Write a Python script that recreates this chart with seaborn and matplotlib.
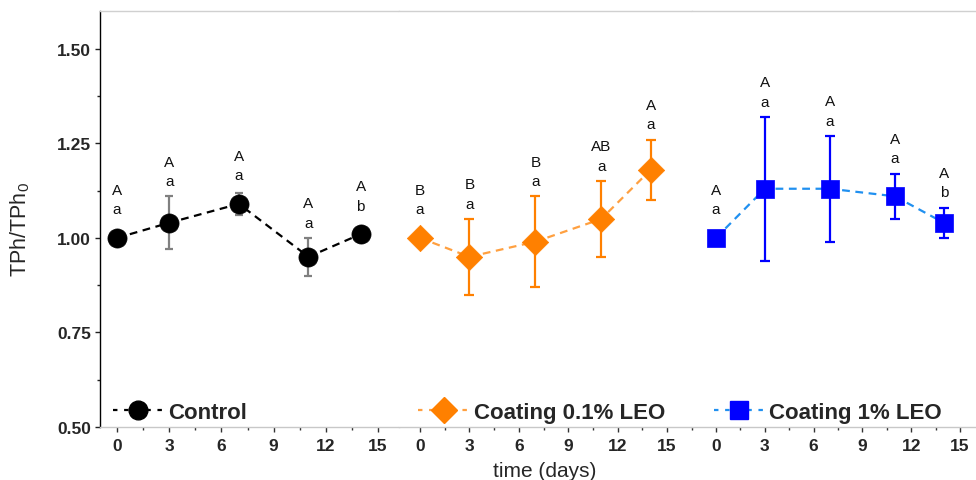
import numpy as np
import pandas as pd
import matplotlib
matplotlib.use("Agg")
import matplotlib.pyplot as plt
import seaborn as sns
from matplotlib.ticker import MultipleLocator, FormatStrFormatter
from matplotlib.lines import Line2D

# ---------------- data ----------------
days = [0, 3, 7, 11, 14]
control_mean = [1.00, 1.04, 1.09, 0.95, 1.01]
control_err = [0.00, 0.07, 0.03, 0.05, 0.02]
leo01_mean = [1.00, 0.95, 0.99, 1.05, 1.18]
leo01_err = [0.00, 0.10, 0.12, 0.10, 0.08]
leo1_mean = [1.00, 1.13, 1.13, 1.11, 1.04]
leo1_err = [0.00, 0.19, 0.14, 0.06, 0.04]
control_upper = ["A", "A", "A", "A", "A"]
control_lower = ["a", "a", "a", "a", "b"]
leo01_upper = ["B", "B", "B", "AB", "A"]
leo01_lower = ["a", "a", "a", "a", "a"]
leo1_upper = ["A", "A", "A", "A", "A"]
leo1_lower = ["a", "a", "a", "a", "b"]
series_names = ["Control", "Coating 0.1% LEO", "Coating 1% LEO"]
x_ticks = [0, 3, 6, 9, 12, 15]
y_ticks = [0.50, 0.75, 1.00, 1.25, 1.50]

# ---------------- style ----------------
sns.set_theme(style="ticks")
plt.rcParams["font.family"] = ["Liberation Sans", "DejaVu Sans"]
plt.rcParams["mathtext.fontset"] = "custom"
plt.rcParams["mathtext.rm"] = "Liberation Sans"
plt.rcParams["mathtext.it"] = "Liberation Sans"

W, H = 976, 481
fig = plt.figure(figsize=(W / 100, H / 100), dpi=100)
fig.patch.set_facecolor("white")

bot = (H - 428) / H
hgt = (428 - 12) / H
# panel pixel extents and x-limits
panels = [
    dict(px=(100, 399), xlim=(-0.977, 16.2)),
    dict(px=(399, 692), xlim=(-1.275, 16.51)),
    dict(px=(692, 976), xlim=(-1.475, 15.98)),
]

styles = [
    dict(mean=control_mean, err=control_err, up=control_upper, lo=control_lower,
         line="#000000", face="#000000", ecol="#808080", marker="o", s=190, cap=3.2,
         leg_x=0.043),
    dict(mean=leo01_mean, err=leo01_err, up=leo01_upper, lo=leo01_lower,
         line="#FFA040", face="#FF8000", ecol="#FF8000", marker="D", s=180, cap=3.8,
         leg_x=0.065),
    dict(mean=leo1_mean, err=leo1_err, up=leo1_upper, lo=leo1_lower,
         line="#2090F0", face="#0000FF", ecol="#0000FF", marker="s", s=185, cap=3.6,
         leg_x=0.077),
]

for i, (p, st, name) in enumerate(zip(panels, styles, series_names)):
    x0, x1 = p["px"]
    ax = fig.add_axes([x0 / W, bot, (x1 - x0) / W, hgt])
    ax.set_facecolor("white")
    df = pd.DataFrame({"day": days, "mean": st["mean"], "err": st["err"]})

    sns.lineplot(data=df, x="day", y="mean", ax=ax, color=st["line"],
                 linestyle=(0, (3.5, 2.5)), linewidth=1.6, legend=False,
                 errorbar=None, zorder=2)
    dfe = df[df["err"] > 0]
    ax.errorbar(dfe["day"], dfe["mean"], yerr=dfe["err"], fmt="none",
                ecolor=st["ecol"], elinewidth=1.6, capsize=st["cap"],
                capthick=1.6, zorder=3)
    sns.scatterplot(data=df, x="day", y="mean", ax=ax, marker=st["marker"],
                    s=st["s"], color=st["face"], edgecolor=st["face"],
                    linewidth=0.5, zorder=4, legend=False)

    # letters
    for d, m, e, u, l in zip(days, st["mean"], st["err"], st["up"], st["lo"]):
        anchor = m + max(e, 0.035)
        ax.annotate(l, xy=(d, anchor), xytext=(0, 11.0), textcoords="offset points",
                    ha="center", va="center", fontsize=11, color="#111111")
        ax.annotate(u, xy=(d, anchor), xytext=(0, 25.0), textcoords="offset points",
                    ha="center", va="center", fontsize=11, color="#111111")

    ax.set_xlim(*p["xlim"])
    ax.set_ylim(0.5, 1.6)
    ax.set_xticks(x_ticks)
    ax.set_xticklabels([str(t) for t in x_ticks])
    ax.xaxis.set_minor_locator(MultipleLocator(1.5))
    ax.set_xlabel("")
    ax.set_ylabel("")
    ax.tick_params(axis="x", which="major", direction="out", length=3.6, width=1,
                   color="#333333", pad=4, labelsize=12.5)
    ax.tick_params(axis="x", which="minor", direction="out", length=2.0, width=1,
                   color="#333333")
    for lab in ax.get_xticklabels():
        lab.set_fontweight("bold")

    for sp in ["right"]:
        ax.spines[sp].set_visible(False)
    ax.spines["top"].set_color("#d0d0d0")
    ax.spines["top"].set_linewidth(1.0)
    ax.spines["bottom"].set_color("#c8c8c8")
    ax.spines["bottom"].set_linewidth(1.0)

    if i == 0:
        ax.set_yticks(y_ticks)
        ax.yaxis.set_major_formatter(FormatStrFormatter("%.2f"))
        ax.yaxis.set_minor_locator(MultipleLocator(0.125))
        ax.tick_params(axis="y", which="major", direction="out", length=3.6, width=1,
                       color="#222222", pad=3, labelsize=12.5)
        ax.tick_params(axis="y", which="minor", direction="out", length=2.0, width=1,
                       color="#222222")
        for lab in ax.get_yticklabels():
            lab.set_fontweight("bold")
        ax.spines["left"].set_color("#000000")
        ax.spines["left"].set_linewidth(1.0)
    else:
        ax.spines["left"].set_visible(False)
        ax.tick_params(axis="y", which="both", left=False, labelleft=False)

    handle = Line2D([], [], color=st["line"], linestyle=(0, (2.0, 3.0)), linewidth=1.6,
                    marker=st["marker"], markersize=13.5 if st["marker"] != "D" else 13.0,
                    markerfacecolor=st["face"], markeredgecolor=st["face"])
    leg = ax.legend([handle], [name], loc="center left",
                    bbox_to_anchor=(st["leg_x"], 0.036), frameon=False,
                    borderaxespad=0, borderpad=0, handlelength=2.3,
                    handletextpad=0.2, prop=dict(size=16, weight="bold"))

fig.text(20 / W, 1 - 230 / H, r"TPh/TPh$_{\mathregular{0}}$", rotation=90,
         ha="center", va="center", fontsize=15.5)
fig.text(545 / W, 1 - 472 / H, "time (days)", ha="center", va="center", fontsize=15)

fig.savefig("out.png", dpi=100, facecolor="white")
